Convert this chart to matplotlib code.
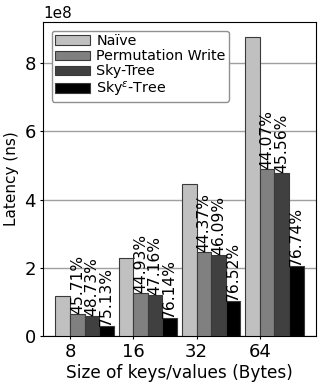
import matplotlib
matplotlib.use("Agg")
import matplotlib.pyplot as plt
import numpy as np

plt.rcParams['font.family'] = ['DejaVu Sans']

sizes = ['8', '16', '32', '64']
series = ['Naïve', 'Permutation Write', 'Sky-Tree', 'Sky$^{\\varepsilon}$-Tree']
naive = [1.18e8, 2.28e8, 4.45e8, 8.77e8]
perm_write = [0.64e8, 1.26e8, 2.46e8, 4.91e8]
sky_tree = [0.60e8, 1.21e8, 2.38e8, 4.79e8]
sky_eps = [0.29e8, 0.54e8, 1.03e8, 2.04e8]
perm_pct = ['45.71%', '44.93%', '44.37%', '44.07%']
sky_pct = ['48.73%', '47.16%', '46.09%', '45.56%']
eps_pct = ['75.13%', '76.14%', '76.52%', '76.74%']

colors = ['#c0c0c0', '#808080', '#404040', '#000000']

fig = plt.figure(figsize=(3.23, 3.88), dpi=100)
ax = fig.add_axes([43/323, 1-336/388, (316-43)/323, (336-22)/388])

x = np.arange(len(sizes))
w = 0.23
data = [naive, perm_write, sky_tree, sky_eps]
bars = []
for i, (vals, lab, col) in enumerate(zip(data, series, colors)):
    b = ax.bar(x + (i - 0.5) * w, vals, w, label=lab, color=col,
               edgecolor='#3a3a3a', linewidth=0.8, zorder=3)
    bars.append(b)

# percentage labels on top of the three optimised bars
for b, pcts in zip(bars[1:], [perm_pct, sky_pct, eps_pct]):
    for rect, p in zip(b, pcts):
        ax.text(rect.get_x() + rect.get_width() / 2, rect.get_height(), p,
                rotation=90, ha='center', va='bottom', fontsize=11.2, zorder=4)

ax.set_xticks(x)
ax.set_xticklabels(sizes)
ax.tick_params(axis='both', labelsize=13, length=2.5, pad=2.5)
ax.set_xlabel('Size of keys/values (Bytes)', fontsize=12.2, labelpad=2)
ax.set_ylabel('Latency (ns)', fontsize=11, labelpad=4)
ax.yaxis.get_offset_text().set_fontsize(11)
ax.grid(axis='y', color='#a0a0a0', linewidth=1.0, zorder=0)
ax.set_axisbelow(True)

ax.legend(loc='upper left', fontsize=10.3, handlelength=2.45, handleheight=0.65,
          handletextpad=0.42, labelspacing=0.08, borderpad=0.25,
          borderaxespad=0.6, edgecolor='#909090', framealpha=1)

fig.savefig('out.png', dpi=100)
